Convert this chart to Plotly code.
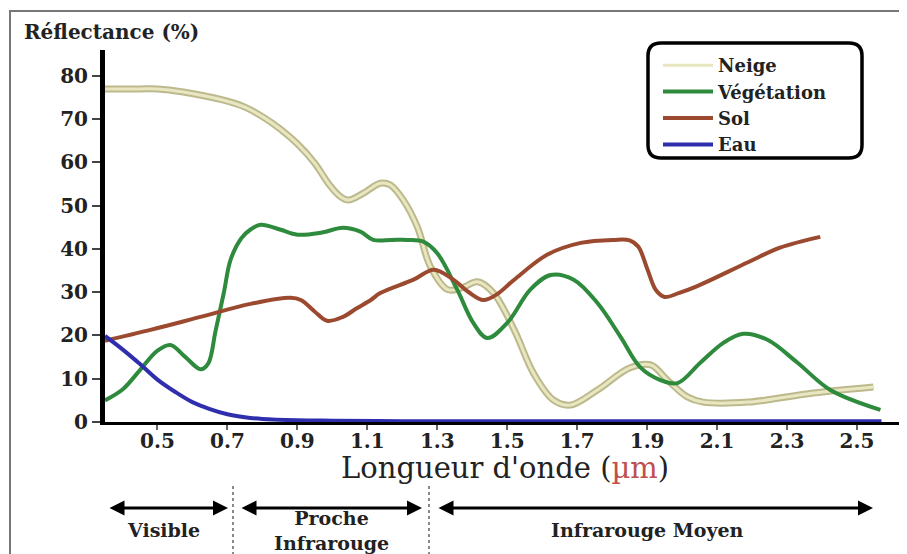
import plotly.graph_objects as go

# ---------------- data ----------------
neige_x = [0.35, 0.45, 0.5, 0.574, 0.689, 0.75, 0.80, 0.85, 0.90, 0.95, 0.99, 1.02, 1.046, 1.089,
           1.137, 1.166, 1.203, 1.243, 1.28, 1.33, 1.37, 1.415, 1.46, 1.52, 1.575, 1.632, 1.68,
           1.758, 1.85, 1.91, 1.958, 2.015, 2.06, 2.19, 2.375, 2.547]
neige_y = [77, 77, 77, 76.3, 74.4, 72.8, 70.6, 67.8, 64.3, 59.8, 55.0, 52.3, 51.3, 52.9,
           55.2, 54.8, 51.3, 45.1, 36.0, 30.6, 31.0, 32.4, 29.9, 21.3, 11.3, 5.1, 3.9,
           7.4, 12.5, 13.2, 9.7, 5.8, 4.6, 4.6, 6.7, 8.1]

veg_x = [0.35, 0.40, 0.45, 0.50, 0.537, 0.58, 0.623, 0.645, 0.666, 0.69, 0.709, 0.74, 0.766,
         0.795, 0.85, 0.9, 0.97, 1.03, 1.08, 1.117, 1.17, 1.215, 1.26, 1.3, 1.357, 1.403, 1.443,
         1.5, 1.566, 1.624, 1.69, 1.758, 1.824, 1.88, 1.938, 1.987, 2.052, 2.118, 2.175, 2.244,
         2.33, 2.424, 2.567]
veg_y = [5, 7.5, 12, 16.5, 17.8, 15, 12.2, 13.5, 21, 30, 37.5, 42.5, 44.5,
         45.6, 44.5, 43.3, 43.8, 44.9, 44, 42.1, 42.1, 42.1, 41.7, 39, 30.6, 22.9, 19.4,
         22.9, 30.6, 34, 32.9, 27.5, 19.7, 12.7, 9.7, 9.0, 13.7, 18.3, 20.4, 19,
         13.7, 7.4, 2.8]

sol_x = [0.35, 0.48, 0.623, 0.766, 0.88, 0.91, 0.95, 0.985, 1.03, 1.07, 1.11, 1.137, 1.232,
         1.29, 1.346, 1.39, 1.432, 1.47, 1.52, 1.615, 1.71, 1.804, 1.85, 1.875, 1.9, 1.925,
         1.95, 1.99, 2.04, 2.19, 2.28, 2.395]
sol_y = [18.8, 21.3, 24.3, 27.3, 28.7, 28.2, 25.5, 23.4, 24.3, 26.3, 28.2, 29.8, 32.9,
         35.2, 32.9, 30, 28.2, 29.5, 32.9, 38.7, 41.4, 42.1, 42.0, 40.5, 35.5, 30.5,
         28.9, 29.8, 31.3, 37, 40.3, 42.8]

eau_x = [0.35, 0.40, 0.45, 0.50, 0.55, 0.60, 0.65, 0.70, 0.75, 0.80, 0.90, 1.0, 1.2, 1.4,
         1.6, 1.8, 2.0, 2.2, 2.4, 2.57]
eau_y = [19.9, 16.8, 13.4, 9.8, 7.0, 4.6, 3.0, 1.8, 1.1, 0.7, 0.4, 0.3, 0.2, 0.2,
         0.2, 0.2, 0.2, 0.2, 0.2, 0.2]

x_ticks = [0.5, 0.7, 0.9, 1.1, 1.3, 1.5, 1.7, 1.9, 2.1, 2.3, 2.5]
x_ticktext = ["0.5", "0.7", "0.9", "1.1", "1.3", "1.5", "1.7", "1.9", "2.1", "2.3", "2.5"]
y_ticks = [0, 10, 20, 30, 40, 50, 60, 70, 80]
y_ticktext = ["0", "10", "20", "30", "40", "50", "60", "70", "80"]

series_names = ["Neige", "Végétation", "Sol", "Eau"]
region_labels = ["Visible", "Proche<br>Infrarouge", "Infrarouge Moyen"]

# ---------------- layout helpers (reference pixel -> paper) ----------------
OFF = 8                      # page body margin
W, H = 907 - OFF, 554 - OFF
PL, PR, PT, PB = 105, 907, 50, 422   # plot area in reference pixels


def px(x):
    return (x - PL) / (PR - PL)


def py(y):
    return (PB - y) / (PB - PT)


SERIF = "DejaVu Serif"
fig = go.Figure()

# Neige drawn as a double (outlined) line
fig.add_trace(go.Scatter(x=neige_x, y=neige_y, mode="lines", line=dict(color="#bcb98c", width=7, shape="spline"),
                         showlegend=False, legendgroup="n", hoverinfo="skip"))
fig.add_trace(go.Scatter(x=neige_x, y=neige_y, mode="lines", name=series_names[0], legendgroup="n",
                         line=dict(color="#e9e7c2", width=3, shape="spline")))
fig.add_trace(go.Scatter(x=veg_x, y=veg_y, mode="lines", name=series_names[1],
                         line=dict(color="#2e8a3c", width=4, shape="spline")))
fig.add_trace(go.Scatter(x=sol_x, y=sol_y, mode="lines", name=series_names[2],
                         line=dict(color="#9b4a30", width=4, shape="spline")))
fig.add_trace(go.Scatter(x=eau_x, y=eau_y, mode="lines", name=series_names[3],
                         line=dict(color="#2f2fae", width=4, shape="spline")))

# legend rounded box
x0, x1, y0, y1, r = 648, 862, 43, 158, 13
path = (f"M {px(x0 + r)},{py(y0)} L {px(x1 - r)},{py(y0)} Q {px(x1)},{py(y0)} {px(x1)},{py(y0 + r)} "
        f"L {px(x1)},{py(y1 - r)} Q {px(x1)},{py(y1)} {px(x1 - r)},{py(y1)} "
        f"L {px(x0 + r)},{py(y1)} Q {px(x0)},{py(y1)} {px(x0)},{py(y1 - r)} "
        f"L {px(x0)},{py(y0 + r)} Q {px(x0)},{py(y0)} {px(x0 + r)},{py(y0)} Z")

shapes = [
    dict(type="rect", xref="paper", yref="paper", x0=px(10), x1=px(1000), y0=py(11), y1=py(700),
         line=dict(color="#777777", width=2), layer="below"),
    dict(type="path", xref="paper", yref="paper", path=path, line=dict(color="black", width=3.5),
         fillcolor="rgba(255,255,255,0)"),
    dict(type="line", xref="paper", yref="paper", x0=px(233), x1=px(233), y0=py(486), y1=py(560),
         line=dict(color="#888888", width=2, dash="dot")),
    dict(type="line", xref="paper", yref="paper", x0=px(429), x1=px(429), y0=py(486), y1=py(560),
         line=dict(color="#888888", width=2, dash="dot")),
]

lab_font = dict(family=SERIF, size=19, color="#222", weight="bold")
annotations = [
    dict(text="Réflectance (%)", x=px(22), y=py(32), xref="paper", yref="paper", showarrow=False,
         xanchor="left", yanchor="middle", font=dict(family=SERIF, size=20, color="#222", weight="bold")),
    dict(text="Longueur d'onde (<span style='color:#c0504d'>µm</span>)", x=px(505), y=py(468),
         xref="paper", yref="paper", showarrow=False, xanchor="center", yanchor="middle",
         font=dict(family=SERIF, size=29, color="#222")),
    dict(text=region_labels[0], x=px(163), y=py(530), xref="paper", yref="paper",
         showarrow=False, xanchor="center", yanchor="middle", font=lab_font),
    dict(text=region_labels[1], x=px(331), y=py(530), xref="paper", yref="paper",
         showarrow=False, xanchor="center", yanchor="middle", font=lab_font),
    dict(text=region_labels[2], x=px(647), y=py(530), xref="paper", yref="paper",
         showarrow=False, xanchor="center", yanchor="middle", font=lab_font),
]
for a, b in [(108, 228), (240, 422), (437, 873)]:
    annotations.append(dict(text="", x=px(b), y=py(508), xref="paper", yref="paper",
                            axref="pixel", ayref="pixel", ax=-(b - a), ay=0, showarrow=True,
                            arrowside="end+start", arrowhead=2, arrowsize=1, arrowwidth=3,
                            arrowcolor="black"))

fig.update_layout(
    width=W, height=H,
    margin=dict(l=PL - OFF, r=0, t=PT - OFF, b=(554 - OFF) - (PB - OFF)),
    paper_bgcolor="white", plot_bgcolor="white",
    showlegend=True,
    legend=dict(x=px(658), y=py(47), xanchor="left", yanchor="top", bgcolor="rgba(0,0,0,0)",
                borderwidth=0, font=dict(family=SERIF, size=18, color="#222", weight="bold"),
                tracegroupgap=0, itemwidth=50),
    shapes=shapes, annotations=annotations,
    xaxis=dict(range=[0.35, 2.643], tickvals=x_ticks, ticktext=x_ticktext, showgrid=False, zeroline=False,
               showline=True, linecolor="black", linewidth=3, ticks="outside", ticklen=5, tickwidth=2,
               tickcolor="#666", ticklabelstandoff=-6,
               tickfont=dict(family=SERIF, size=20, color="#222", weight="bold")),
    yaxis=dict(range=[0, 86], tickvals=y_ticks, ticktext=y_ticktext, showgrid=False, zeroline=False,
               showline=True, linecolor="black", linewidth=5, ticks="outside", ticklen=8, tickwidth=2,
               tickcolor="#444", tickfont=dict(family=SERIF, size=20, color="#222", weight="bold")),
)

fig.write_html("out.html")
